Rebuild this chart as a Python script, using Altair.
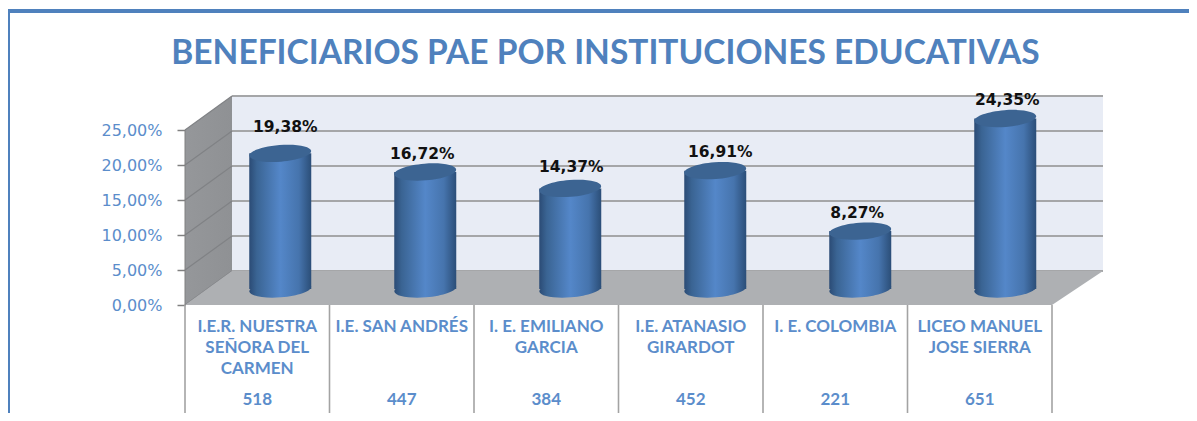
import altair as alt
import pandas as pd

# ---------- values ----------
categories = ["I.E.R. NUESTRA\nSEÑORA DEL\nCARMEN", "I.E. SAN ANDRÉS", "I. E.  EMILIANO\nGARCIA",
              "I.E. ATANASIO\nGIRARDOT", "I. E. COLOMBIA", "LICEO MANUEL\nJOSE SIERRA"]
shares = [19.38, 16.72, 14.37, 16.91, 8.27, 24.35]
share_labels = ["19,38%", "16,72%", "14,37%", "16,91%", "8,27%", "24,35%"]
counts = [518, 447, 384, 452, 221, 651]
ticks = [0, 5, 10, 15, 20, 25]
title_text = "BENEFICIARIOS PAE POR INSTITUCIONES EDUCATIVAS"

# ---------- geometry: one category = 144.5 px, one percent = 7 px ----------
W, H = 1181, 405
UX, UY = 144.5, 7.0
X0, Y0 = 185 - 8, 305 - 8            # origin of the chart inside the svg
xdom = [-X0 / UX, (W - X0) / UX]
ydom = [(Y0 - H) / UY, Y0 / UY]
DX_L, DX_R, DZ = 47 / UX, 51 / UX, 34 / UY
C_SHIFT, C_HALF, C_BASE = 23 / UX, 31 / UX, 16 / UY
C_STEP = 145 / UX
label_lift = [26, 18, 21, 19, 18, 19]      # px above the cylinder top
label_shift = [5, -3, 1, 5, -3, 2]         # px beside the cylinder centre

BLUE = "#5b8dcb"
xs = alt.Scale(domain=xdom, range=[0, W], nice=False, zero=False)
ys = alt.Scale(domain=ydom, range=[H, 0], nice=False, zero=False)
YAXIS = alt.Axis(values=ticks, offset=-X0, domain=False, grid=False, title=None,
                 tickColor="#808080", tickSize=8, tickWidth=1.5, labelPadding=15,
                 labelColor=BLUE, labelFont="DejaVu Sans", labelFontSize=16,
                 labelExpr="replace(format(datum.value,'.2f'),'.',',')+'%'")
def X(f): return alt.X(f"{f}:Q", scale=xs, axis=None)
def Y(f): return alt.Y(f"{f}:Q", scale=ys, axis=YAXIS)
def X2(f): return alt.X2(f"{f}")
def Y2(f): return alt.Y2(f"{f}")

def hgrad(*stops):
    return alt.Gradient(gradient="linear", x1=0, x2=1, y1=0, y2=0,
                        stops=[alt.GradientStop(offset=o, color=c) for o, c in stops])
CYL = hgrad((0, "#2b4b75"), (0.12, "#3a6493"), (0.5, "#5487c9"), (0.8, "#4674ad"), (1, "#2b4e78"))
ELLIPSE = "M -0.997 0.08 A 1 0.27 -4.5 1 1 0.997 -0.08 A 1 0.27 -4.5 1 1 -0.997 0.08 Z"

bars = pd.DataFrame({"i": range(6), "share": shares, "label": share_labels, "count": counts, "cat": categories})
bars["c"] = bars.i * C_STEP + 0.5 + C_SHIFT
bars["l"] = bars.c - C_HALF
bars["r"] = bars.c + C_HALF
bars["base"] = C_BASE
bars["top"] = C_BASE + bars.share
bars["lx"] = bars.c + pd.Series(label_shift) / UX
bars["ly"] = bars.top + pd.Series(label_lift) / UY
bars["mid"] = bars.i + 0.5
bars["ytxt"] = -14 / UY
bars["ycount"] = -95 / UY

grid = pd.DataFrame({"t": ticks})
grid["b"] = grid.t + DZ
grid["x0"] = 0.0
grid["x1"] = DX_L
grid["x2"] = 6 + DX_R

side = pd.DataFrame({"x": [0, DX_L], "lo": [0, DZ], "hi": [25, 25 + DZ]})
floor = pd.DataFrame({"y": [0, DZ], "a": [0, DX_L], "b": [6, 6 + DX_R]})
back = pd.DataFrame({"a": [DX_L], "b": [6 + DX_R], "lo": [DZ], "hi": [25 + DZ]})
seps = pd.DataFrame({"x": list(range(7)), "a": [0.0] * 7, "b": [-108 / UY] * 7})
axis_df = pd.DataFrame({"x": [0.0], "a": [0.0], "b": [25.0]})

layers = [
    alt.Chart(back).mark_rect(color="#e8ecf5").encode(x=X("a"), x2=X2("b"), y=Y("lo"), y2=Y2("hi")),
    alt.Chart(side).mark_area(color=hgrad((0, "#95979a"), (1, "#8f9194"))).encode(
        x=X("x"), y=Y("lo"), y2=Y2("hi")),
    alt.Chart(grid).mark_rule(color="#a5a6a8", strokeWidth=2).encode(x=X("x1"), x2=X2("x2"), y=Y("b")),
    alt.Chart(grid).mark_rule(color="#808285", strokeWidth=1.2).encode(
        x=X("x0"), x2=X2("x1"), y=Y("t"), y2=Y2("b")),
    alt.Chart(floor).mark_area(color="#aeb0b3", orient="horizontal").encode(
        y=Y("y"), x=X("a"), x2=X2("b")),
    # cylinders
    alt.Chart(bars).mark_point(filled=True, shape=ELLIPSE, size=62 ** 2, opacity=1, fill=CYL, strokeWidth=0).encode(
        x=X("c"), y=Y("base")),
    alt.Chart(bars).mark_rect(fill=CYL).encode(x=X("l"), x2=X2("r"), y=Y("base"), y2=Y2("top")),
    alt.Chart(bars).mark_point(filled=True, shape=ELLIPSE, size=62 ** 2, opacity=1, fill="#3c6492", strokeWidth=0).encode(
        x=X("c"), y=Y("top")),
    alt.Chart(bars).mark_text(font="DejaVu Sans", fontWeight="bold", fontSize=15.5, color="#111111").encode(
        x=X("lx"), y=Y("ly"), text="label:N"),
    # table below the chart
    alt.Chart(seps).mark_rule(color="#a3a3a3", strokeWidth=1.6).encode(x=X("x"), y=Y("a"), y2=Y2("b")),
    alt.Chart(axis_df).mark_rule(color="#808080", strokeWidth=1).encode(x=X("x"), y=Y("a"), y2=Y2("b")),
    alt.Chart(bars).mark_text(font="Lato", fontWeight="bold", fontSize=17, color=BLUE, baseline="top",
                              lineBreak="\n", lineHeight=21).encode(x=X("mid"), y=Y("ytxt"), text="cat:N"),
    alt.Chart(bars).mark_text(font="Lato", fontWeight="bold", fontSize=17, color=BLUE, baseline="middle").encode(
        x=X("mid"), y=Y("ycount"), text="count:N"),
    # the outer frame of the picture
    alt.Chart(back).mark_rule(color="#4f81bd", strokeWidth=4).encode(
        x=alt.value(0), x2=alt.value(W), y=alt.value(3)),
    alt.Chart(back).mark_rule(color="#4f81bd", strokeWidth=2).encode(
        x=alt.value(1), y=alt.value(1), y2=alt.value(H)),
]

chart = alt.layer(*layers).properties(
    width=W, height=H, padding=0,
    autosize=alt.AutoSizeParams(type="none"),
    title=alt.TitleParams(title_text, font="Lato", fontWeight="bold", fontSize=33.5, color="#4f81bd",
                          anchor="middle", offset=-96, dx=7, baseline="bottom"),
).configure_view(stroke=None)

chart.save("out.html", embed_options={"renderer": "svg", "actions": False})
